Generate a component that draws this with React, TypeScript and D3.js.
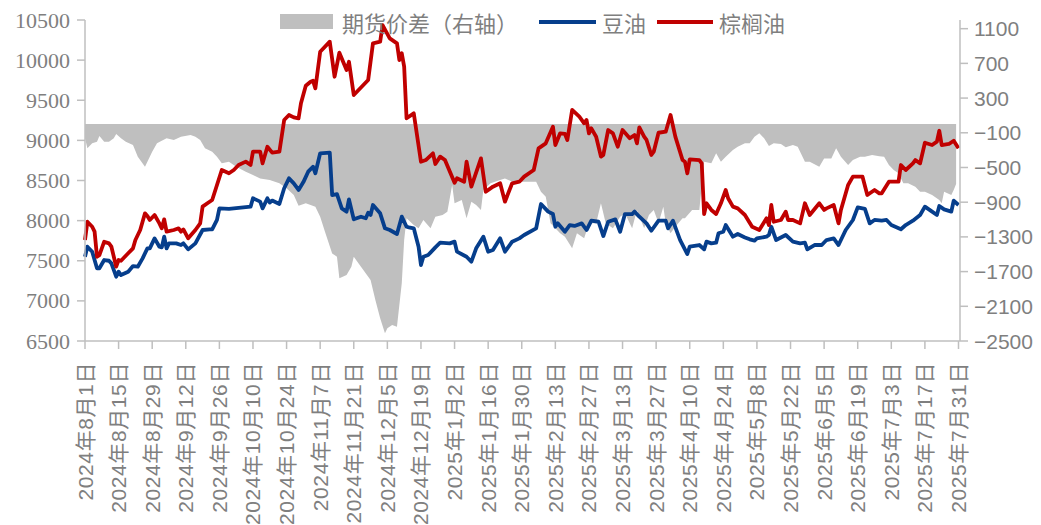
import React from 'react';
import * as d3 from 'd3';

const START = new Date(2024, 7, 1);
const END = new Date(2025, 6, 31);

// [days since 2024-08-01, value]
const soyOil: [number, number][] = [
  [0,7550],[1,7675],[3,7612],[5,7406],[6,7406],[8,7509],[10,7500],[11,7467],[13,7301],[14,7364],[15,7322],[18,7364],[20,7434],[22,7426],[24,7530],[26,7655],[27,7655],[29,7779],[31,7675],[32,7667],[33,7800],[34,7655],[35,7717],[38,7717],[40,7696],[41,7717],[43,7642],[46,7717],[49,7883],[52,7890],[53,7890],[55,8008],[56,8153],[60,8146],[69,8174],[70,8278],[73,8237],[74,8153],[76,8278],[77,8225],[78,8250],[81,8207],[83,8403],[85,8527],[87,8465],[89,8382],[91,8480],[93,8610],[95,8672],[96,8590],[98,8839],[102,8847],[103,8319],[105,8330],[107,8153],[109,8112],[110,8265],[112,8016],[115,8049],[117,8029],[118,8099],[119,8070],[120,8195],[123,8091],[125,7904],[127,7883],[130,7833],[132,8049],[134,7924],[135,7916],[137,7904],[139,7675],[140,7447],[141,7550],[143,7571],[146,7667],[148,7725],[152,7717],[154,7738],[155,7613],[159,7550],[161,7488],[163,7655],[166,7800],[168,7613],[170,7634],[173,7779],[175,7613],[178,7738],[181,7779],[183,7821],[188,7904],[190,8207],[193,8112],[195,8082],[196,7924],[197,7966],[200,7862],[202,7945],[204,7934],[207,7966],[209,7883],[211,7999],[214,7986],[216,7808],[218,7986],[221,8016],[223,7862],[225,8082],[228,8082],[229,8112],[231,8049],[234,7966],[236,7874],[239,7999],[242,7999],[243,7904],[245,7999],[248,7758],[251,7584],[252,7675],[256,7696],[258,7642],[259,7738],[261,7717],[263,7725],[264,7842],[266,7862],[267,7945],[270,7800],[272,7833],[275,7790],[277,7767],[279,7750],[280,7779],[284,7800],[285,7821],[286,7924],[288,7758],[292,7821],[295,7738],[298,7717],[300,7725],[301,7642],[304,7696],[307,7696],[309,7758],[312,7779],[314,7696],[317,7883],[320,8008],[322,8166],[325,8146],[327,7966],[329,8008],[332,7999],[334,8008],[336,7945],[340,7892],[342,7945],[345,7999],[348,8070],[350,8174],[353,8112],[355,8070],[356,8182],[358,8140],[361,8112],[362,8248],[364,8195]
];

const palmOil: [number, number][] = [
  [0,7758],[1,7986],[3,7924],[4,7862],[5,7550],[6,7570],[8,7737],[10,7716],[11,7675],[13,7426],[14,7509],[15,7500],[18,7593],[20,7655],[21,7758],[23,7883],[25,8091],[26,8058],[27,8008],[29,8070],[31,7966],[32,7904],[33,8016],[34,7862],[37,7883],[39,7904],[40,7862],[41,7890],[43,7779],[46,7883],[48,7966],[49,8174],[51,8216],[53,8257],[55,8444],[57,8631],[60,8590],[62,8631],[64,8693],[67,8735],[69,8693],[70,8859],[73,8859],[74,8714],[76,8921],[78,8847],[81,8859],[83,9254],[85,9316],[87,9287],[89,9275],[90,9462],[92,9680],[94,9731],[95,9743],[96,9648],[98,10105],[102,10230],[104,9793],[106,10093],[109,9877],[110,9980],[112,9565],[116,9690],[118,9752],[120,10209],[123,10230],[124,10437],[127,10271],[130,10209],[131,10001],[132,10085],[133,9918],[134,9275],[137,9337],[140,8734],[142,8755],[145,8839],[146,8706],[148,8797],[150,8755],[154,8472],[155,8527],[158,8485],[159,8734],[161,8423],[165,8776],[167,8360],[170,8423],[173,8465],[175,8236],[178,8465],[181,8485],[183,8548],[187,8631],[189,8901],[192,8963],[195,9170],[196,8942],[198,9088],[200,9080],[201,9005],[203,9379],[206,9295],[208,9213],[209,9254],[210,9088],[211,9150],[213,9046],[215,8797],[216,8818],[218,9129],[220,9088],[222,8921],[224,9129],[225,9095],[227,9026],[229,9067],[230,8963],[231,9162],[233,9046],[234,9005],[236,8818],[237,8859],[239,9095],[242,9108],[244,9316],[246,9046],[249,8755],[250,8734],[251,8590],[252,8764],[256,8755],[257,8714],[258,8082],[259,8216],[261,8133],[263,8082],[265,8216],[267,8382],[268,8278],[270,8174],[272,8153],[275,8070],[278,7924],[281,7883],[284,8029],[285,7945],[286,8195],[287,7986],[290,8008],[292,8112],[293,8008],[295,8008],[298,7966],[299,8091],[300,8216],[302,8070],[306,8216],[308,8133],[309,8153],[312,8195],[314,7966],[315,8133],[318,8444],[320,8548],[324,8548],[326,8319],[329,8382],[331,8340],[332,8340],[335,8485],[339,8485],[340,8693],[342,8631],[345,8714],[346,8755],[348,8714],[350,8971],[353,8942],[355,8984],[356,9120],[357,8942],[360,8955],[362,8996],[364,8901]
];

const spread: [number, number][] = [
  [0,-164],[1,-279],[3,-221],[5,-203],[6,-137],[8,-203],[10,-203],[12,-164],[13,-114],[15,-164],[17,-203],[20,-241],[22,-376],[25,-491],[28,-318],[30,-222],[34,-164],[37,-183],[40,-145],[44,-126],[46,-145],[48,-183],[50,-279],[53,-318],[55,-376],[57,-452],[60,-433],[63,-491],[67,-549],[70,-587],[73,-626],[77,-644],[81,-683],[84,-740],[87,-817],[89,-940],[92,-913],[96,-952],[98,-1067],[100,-1240],[103,-1490],[105,-1528],[106,-1777],[109,-1739],[111,-1644],[112,-1528],[115,-1644],[119,-1797],[121,-2027],[123,-2238],[125,-2411],[126,-2354],[128,-2316],[130,-2335],[132,-1835],[133,-1336],[134,-1086],[137,-1163],[139,-1201],[141,-1105],[144,-1201],[146,-1067],[149,-1048],[151,-1010],[153,-702],[154,-913],[157,-875],[159,-1086],[161,-894],[163,-932],[165,-990],[166,-760],[169,-683],[173,-644],[175,-626],[178,-664],[183,-664],[188,-664],[190,-779],[192,-837],[194,-1143],[198,-1259],[200,-1297],[203,-1432],[205,-1259],[208,-1316],[210,-1143],[213,-1143],[215,-913],[217,-1143],[220,-1201],[223,-1067],[225,-1028],[228,-1201],[230,-990],[233,-1201],[235,-1048],[237,-990],[239,-1143],[241,-952],[242,-1143],[244,-1259],[246,-1182],[249,-1086],[250,-1086],[253,-990],[256,-990],[258,-433],[261,-452],[263,-337],[265,-433],[267,-376],[270,-298],[272,-260],[275,-222],[277,-222],[279,-145],[281,-106],[283,-164],[285,-252],[287,-222],[290,-229],[292,-267],[295,-241],[297,-260],[300,-433],[302,-433],[306,-491],[308,-395],[311,-395],[313,-279],[315,-376],[318,-472],[320,-414],[323,-376],[325,-376],[328,-356],[331,-370],[333,-376],[335,-472],[337,-529],[339,-567],[341,-683],[343,-683],[346,-721],[348,-779],[350,-779],[353,-817],[356,-875],[357,-913],[358,-779],[361,-817],[362,-760],[363,-690]
];

const leftTicks = [6500, 7000, 7500, 8000, 8500, 9000, 9500, 10000, 10500];
const rightTicks = [-2500, -2100, -1700, -1300, -900, -500, -100, 300, 700, 1100];
const xTickStepDays = 14;
const legendLabels = ['期货价差（右轴）', '豆油', '棕榈油'];

const COLORS = { spread: '#bfbfbf', soy: '#063e8c', palm: '#c00000', axis: '#bfbfbf', text: '#7f7f7f' };

export default function App() {
  const x = d3.scaleTime().domain([START, END]).range([85, 958.5]);
  const yL = d3.scaleLinear().domain([6500, 10500]).range([341, 20]);
  const yR = d3.scaleLinear().domain([-2500, 1200]).range([341, 20]);
  const toDate = (d: number) => d3.timeDay.offset(START, d);

  const area = d3.area<[number, number]>()
    .x(d => x(toDate(d[0])))
    .y0(yR(0))
    .y1(d => yR(d[1]));
  const line = d3.line<[number, number]>()
    .x(d => x(toDate(d[0])))
    .y(d => yL(d[1]));

  const xTicks = d3.range(0, 365, xTickStepDays).map(toDate);
  const fmt = (d: Date) => `${d.getFullYear()}年${d.getMonth() + 1}月${d.getDate()}日`;
  const fmtR = (v: number) => (v < 0 ? '\u2212' + Math.abs(v) : String(v));

  const sans = '"Liberation Sans", Arial, "Noto Sans CJK SC", sans-serif';
  const serif = '"Liberation Serif", "Times New Roman", serif';
  const cjk = '"Noto Sans CJK SC", "Liberation Sans", sans-serif';

  return (
    <svg width={1041} height={525} style={{ position: 'absolute', left: 0, top: 0, background: '#fff' }}>
      <path d={area(spread) || ''} fill={COLORS.spread} />
      <path d={line(soyOil) || ''} fill="none" stroke={COLORS.soy} strokeWidth={3.8} strokeLinejoin="round" />
      <path d={line(palmOil) || ''} fill="none" stroke={COLORS.palm} strokeWidth={3.8} strokeLinejoin="round" />

      {/* left axis */}
      <line x1={85} x2={85} y1={20} y2={341} stroke={COLORS.axis} strokeWidth={1.5} />
      {leftTicks.map(t => (
        <g key={t}>
          <line x1={77} x2={85} y1={yL(t)} y2={yL(t)} stroke={COLORS.axis} strokeWidth={1.5} />
          <text x={70} y={yL(t)} textAnchor="end" dominantBaseline="central" fontFamily={serif} fontSize={22} fill={COLORS.text}>{t}</text>
        </g>
      ))}

      {/* right axis */}
      <line x1={960} x2={960} y1={20} y2={341} stroke={COLORS.axis} strokeWidth={1.5} />
      {rightTicks.map(t => (
        <g key={t}>
          <line x1={960} x2={968} y1={yR(t)} y2={yR(t)} stroke={COLORS.axis} strokeWidth={1.5} />
          <text x={974} y={yR(t)} textAnchor="start" dominantBaseline="central" fontFamily={sans} fontSize={21} fill={COLORS.text}>{fmtR(t)}</text>
        </g>
      ))}

      {/* x axis */}
      <line x1={85} x2={960} y1={341} y2={341} stroke={COLORS.axis} strokeWidth={1.5} />
      {xTicks.map((d, i) => (
        <g key={i}>
          <line x1={x(d)} x2={x(d)} y1={341} y2={349} stroke={COLORS.axis} strokeWidth={1.5} />
          <text transform={`translate(${x(d)},362) rotate(-90)`} textAnchor="end" dominantBaseline="central" fontFamily={sans} fontSize={21} letterSpacing={0.6} fill={COLORS.text}>{fmt(d)}</text>
        </g>
      ))}

      {/* legend */}
      <rect x={280} y={14} width={53} height={15} fill={COLORS.spread} />
      <text x={342} y={22} dominantBaseline="central" fontFamily={cjk} fontSize={22} fill={COLORS.text}>{legendLabels[0]}</text>
      <line x1={539} x2={596} y1={22} y2={22} stroke={COLORS.soy} strokeWidth={4} />
      <text x={602} y={22} dominantBaseline="central" fontFamily={cjk} fontSize={22} fill={COLORS.text}>{legendLabels[1]}</text>
      <line x1={657} x2={713} y1={22} y2={22} stroke={COLORS.palm} strokeWidth={4} />
      <text x={719} y={22} dominantBaseline="central" fontFamily={cjk} fontSize={22} fill={COLORS.text}>{legendLabels[2]}</text>
    </svg>
  );
}
